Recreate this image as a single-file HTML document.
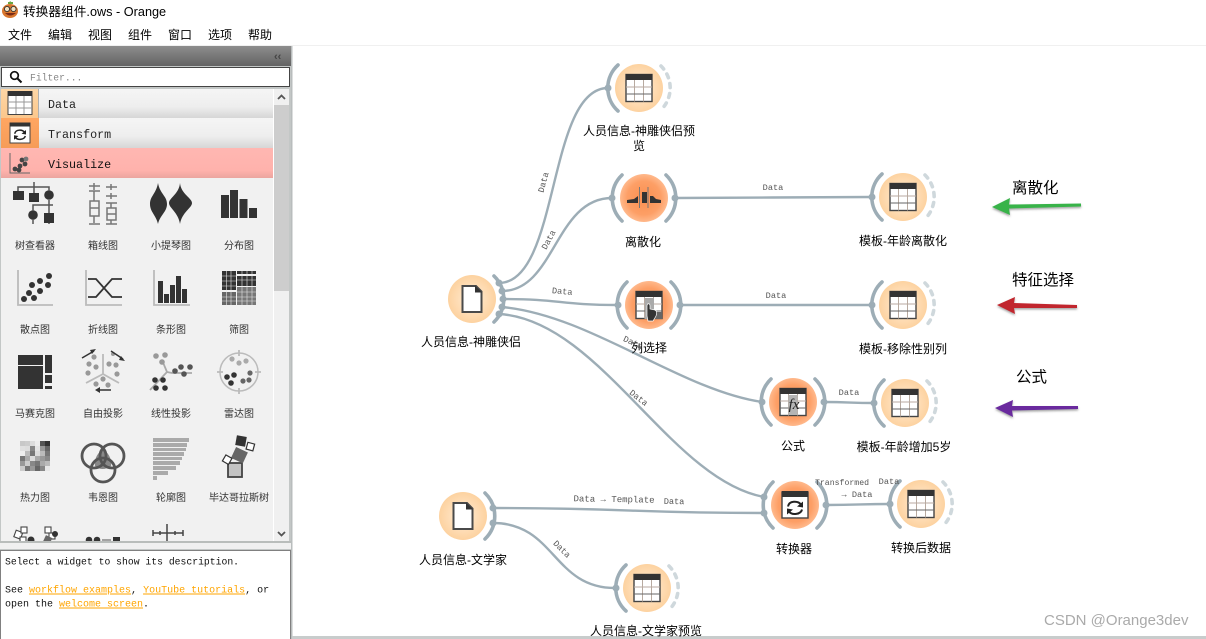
<!DOCTYPE html>
<html><head><meta charset="utf-8">
<style>
html,body{margin:0;padding:0;background:#fff;width:1206px;height:639px;overflow:hidden}
svg{display:block}
.ui{font-family:"Liberation Sans","Noto Sans CJK SC",sans-serif;fill:#000}
.mono{font-family:"Liberation Mono",monospace}
.pal{font-family:"Liberation Sans","Noto Sans CJK SC",sans-serif;font-size:10px;fill:#333;text-anchor:middle}
.nl{font-family:"Liberation Sans","Noto Sans CJK SC",sans-serif;font-size:12px;fill:#000;text-anchor:middle}
.el{font-family:"Liberation Mono",monospace;font-size:8.6px;fill:#555;text-anchor:middle}
.edge{fill:none;stroke:#9dadb6;stroke-width:2.4}
.arc{fill:none;stroke:#9dadb6;stroke-width:3.6;stroke-linecap:round}
.dash{fill:none;stroke:#cfd8dc;stroke-width:3.6;stroke-linecap:round;stroke-dasharray:4 6}
.big{font-family:"Liberation Sans","Noto Sans CJK SC",sans-serif;font-size:15.5px;fill:#000}
</style></head>
<body>
<svg width="1206" height="639" viewBox="0 0 1206 639" xmlns="http://www.w3.org/2000/svg">
<defs>
<radialGradient id="lt"><stop offset="0" stop-color="#ffedd6"/><stop offset="1" stop-color="#fdd2a0"/></radialGradient>
<radialGradient id="or"><stop offset="0" stop-color="#fb8f50"/><stop offset=".7" stop-color="#fd9f66"/><stop offset="1" stop-color="#ffb98c"/></radialGradient>
<linearGradient id="hdr" x1="0" y1="0" x2="0" y2="1"><stop offset="0" stop-color="#8d8d8d"/><stop offset="1" stop-color="#636363"/></linearGradient>
<linearGradient id="tab" x1="0" y1="0" x2="0" y2="1"><stop offset="0" stop-color="#f5f5f5"/><stop offset=".6" stop-color="#eeeeee"/><stop offset="1" stop-color="#d6d6d6"/></linearGradient>
<linearGradient id="vis" x1="0" y1="0" x2="0" y2="1"><stop offset="0" stop-color="#ffb7b2"/><stop offset=".75" stop-color="#ffb2ac"/><stop offset="1" stop-color="#eba59f"/></linearGradient>
<linearGradient id="dt" x1="0" y1="0" x2="0" y2="1"><stop offset="0" stop-color="#fed7a6"/><stop offset="1" stop-color="#fbc78c"/></linearGradient>
<linearGradient id="tt" x1="0" y1="0" x2="0" y2="1"><stop offset="0" stop-color="#ffa662"/><stop offset="1" stop-color="#f69c58"/></linearGradient>
<filter id="sh" x="-10%" y="-30%" width="120%" height="170%"><feDropShadow dx="0" dy="1.5" stdDeviation="1" flood-color="#555" flood-opacity=".55"/></filter>
<clipPath id="palclip"><rect x="2" y="178" width="272" height="363"/></clipPath>

<g id="tbl">
 <rect x="-13" y="-13.5" width="26" height="27" fill="#fff" stroke="#444" stroke-width="1.4"/>
 <rect x="-13" y="-14" width="26" height="6" fill="#333"/>
 <path d="M-4.5-8V13.5M4.5-8V13.5" stroke="#b8aaa0" stroke-width="1" fill="none"/>
 <path d="M-13-1H13" stroke="#b8aaa0" stroke-width="1"/>
 <path d="M-13 6H13" stroke="#666" stroke-width="1"/>
</g>
<g id="file">
 <path d="M-9.5-13H4L9.5-7.5V13H-9.5Z" fill="#fff" stroke="#4a4a4a" stroke-width="2"/>
 <path d="M3-13.5L10-6.5H3Z" fill="#333"/>
</g>
<g id="sync">
 <path d="M-7-1C-6-7 3-7 6-3" fill="none" stroke="#222" stroke-width="2"/>
 <path d="M8-6L8 0 2-1Z" fill="#222"/>
 <path d="M7 2C6 7-3 8-6 4" fill="none" stroke="#222" stroke-width="2"/>
 <path d="M-8 7L-8 1-2 2Z" fill="#222"/>
</g>
</defs>

<rect width="1206" height="639" fill="#fff"/>

<!-- title bar -->
<g>
 <ellipse cx="10" cy="11" rx="8" ry="7" fill="#d9772e"/>
 <path d="M9 3L10 1 12 3Z" fill="#5d9b3c"/>
 <rect x="8" y="2" width="5" height="2" fill="#6aa53f"/>
 <circle cx="7" cy="9" r="2.6" fill="#f2e2c2" stroke="#333" stroke-width=".9"/>
 <circle cx="13.5" cy="9" r="2.6" fill="#f2e2c2" stroke="#333" stroke-width=".9"/>
 <path d="M5 13Q10 18 16 13Z" fill="#7b2a15"/>
</g>
<text class="ui" x="23" y="16" font-size="12.7">转换器组件.ows - Orange</text>
<g class="ui" font-size="12">
 <text x="8" y="39">文件</text><text x="48" y="39">编辑</text><text x="88" y="39">视图</text><text x="128" y="39">组件</text><text x="168" y="39">窗口</text><text x="208" y="39">选项</text><text x="248" y="39">帮助</text>
</g>
<rect x="0" y="45" width="1206" height="1" fill="#f0f0f0"/>

<!-- dock -->
<rect x="0" y="46" width="292" height="593" fill="#f0f0f0"/>
<rect x="291" y="46" width="1.5" height="593" fill="#b9bdbd"/>
<rect x="0" y="46" width="291" height="20" fill="url(#hdr)"/>
<text x="274" y="60" font-size="11" fill="#444" font-family="Liberation Sans" font-weight="bold">‹‹</text>
<rect x="0" y="66" width="291" height="484" fill="#c3c7c6"/>
<rect x="1.5" y="67.5" width="288" height="19" fill="#fff" stroke="#444" stroke-width="1"/>
<circle cx="14.5" cy="75.5" r="3.8" fill="none" stroke="#111" stroke-width="1.7"/>
<path d="M17.5 78.5L21.5 82.5" stroke="#111" stroke-width="2"/>
<text class="mono" x="30" y="80.5" font-size="9.7" fill="#888">Filter...</text>

<!-- tabs -->
<rect x="1" y="89" width="272" height="29" fill="url(#tab)"/>
<rect x="1" y="89" width="38" height="29" fill="url(#dt)"/>
<rect x="38" y="89" width="1" height="59" fill="#b0b0b0"/>
<rect x="1" y="118" width="272" height="30" fill="url(#tab)"/>
<rect x="1" y="118" width="38" height="30" fill="url(#tt)"/>
<rect x="1" y="148" width="272" height="30" fill="url(#vis)"/>
<g transform="translate(20 103)"><rect x="-12" y="-11.5" width="24" height="23" fill="#fff" stroke="#444"/><rect x="-12" y="-12" width="24" height="5" fill="#333"/><path d="M-4-7V11M4-7V11M-12-1H12M-12 5H12" stroke="#999" fill="none"/></g>
<g transform="translate(20 133)"><rect x="-10" y="-10" width="20" height="20" fill="#fff" stroke="#444"/><rect x="-10" y="-10.5" width="20" height="4" fill="#333"/><g transform="translate(0 1.5) scale(.75)"><use href="#sync"/></g></g>
<g><path d="M10 153V173H30" fill="none" stroke="#666" stroke-width="1"/><g fill="#444"><circle cx="15" cy="169" r="2.4"/><circle cx="20" cy="166" r="2.4"/><circle cx="25" cy="164" r="2.4"/><circle cx="19" cy="170" r="2.4"/><circle cx="22" cy="160" r="2.4"/><circle cx="26" cy="159" r="2.4" fill="#777"/></g></g>
<text class="mono" x="48" y="108" font-size="11.7" fill="#222">Data</text>
<text class="mono" x="48" y="138" font-size="11.7" fill="#222">Transform</text>
<text class="mono" x="48" y="168" font-size="11.7" fill="#111">Visualize</text>

<!-- palette area -->
<rect x="1" y="178" width="272" height="363" fill="#f1f1f1"/>
<rect x="273" y="89" width="1" height="452" fill="#fff"/>
<rect x="274" y="89" width="15" height="452" fill="#f0f0f0"/>
<rect x="274" y="105" width="15" height="186" fill="#cdcdcd"/>
<path d="M278 99L281.5 95.5 285 99" fill="none" stroke="#555" stroke-width="1.8"/>
<path d="M278 532L281.5 535.5 285 532" fill="none" stroke="#555" stroke-width="1.8"/>

<g clip-path="url(#palclip)">
 <!-- tree -->
 <g fill="#333" stroke="none">
  <rect x="13" y="191" width="11" height="9"/><rect x="29" y="193" width="10" height="9"/><circle cx="49" cy="195" r="4.8"/>
  <circle cx="33" cy="215" r="4.8"/><rect x="44" y="213" width="10" height="10"/>
 </g>
 <path d="M18 191V187H49V191M34 182V193M49 200V213M33 211V205H53M33 219V224M49 223V224" fill="none" stroke="#555" stroke-width="1.5"/>
 <!-- box -->
 <g fill="none" stroke="#777" stroke-width="1.5">
  <path d="M89 186H100M94 183V190M89 191H100M94 191V201M90 201H99V216H90ZM90 208H99M94 216V223M89 224H100"/>
  <path d="M106 187H117M111 184V190M106 196H117M111 193V199M106 203H117M111 203V208M107 208H116V220H107ZM107 214H116M111 220V224M106 224H117"/>
 </g>
 <!-- violin -->
 <path d="M158 183C160 194 167 196 167 204C167 212 160 215 158 224C156 215 150 212 150 204C150 196 156 194 158 183Z" fill="#333"/>
 <path d="M180 183C181 194 192 198 192 203C192 208 182 212 180 224C178 212 169 208 169 203C169 198 179 194 180 183Z" fill="#333"/>
 <!-- dist -->
 <g fill="#333"><rect x="221" y="195" width="8" height="23"/><rect x="230" y="190" width="8" height="28"/><rect x="239.5" y="199" width="8" height="19"/><rect x="249" y="208" width="8" height="10"/></g>
 <!-- scatter -->
 <path d="M18 270V305H53" fill="none" stroke="#bbb" stroke-width="1.8"/>
 <g fill="#333"><circle cx="24" cy="299" r="3"/><circle cx="29" cy="293" r="3"/><circle cx="34" cy="298" r="3"/><circle cx="32" cy="285" r="3"/><circle cx="40" cy="281" r="3"/><circle cx="40" cy="291" r="3"/><circle cx="48" cy="285" r="3"/><circle cx="49" cy="276" r="3"/></g>
 <!-- lines -->
 <path d="M86 270V305H122" fill="none" stroke="#bbb" stroke-width="1.8"/>
 <path d="M88 279H96L112 297H122M88 297H96L112 279H122" fill="none" stroke="#333" stroke-width="1.8"/>
 <!-- bar -->
 <path d="M154 270V305H190" fill="none" stroke="#bbb" stroke-width="1.8"/>
 <g fill="#333"><rect x="158" y="281" width="5" height="22"/><rect x="164" y="294" width="5" height="9"/><rect x="170" y="285" width="5" height="18"/><rect x="176" y="276" width="5" height="27"/><rect x="182" y="289" width="5" height="14"/></g>
 <!-- sieve -->
 <g>
  <rect x="222" y="271" width="14" height="19" fill="#333"/><rect x="237" y="271" width="19" height="3" fill="#333"/><rect x="237" y="276" width="19" height="10" fill="#333"/>
  <rect x="222" y="292" width="14" height="13" fill="#666"/><rect x="237" y="287" width="19" height="18" fill="#777"/>
  <path d="M226.5 271V305M231 271V305M242 271V305M247 271V305M252 271V305M222 276H236M222 281H236M222 286H236M222 297H236M222 301H236M237 280H256M237 292H256M237 297H256M237 301H256" stroke="#e8e8e8" stroke-width=".6" fill="none"/>
 </g>
 <!-- mosaic -->
 <g fill="#333"><rect x="18" y="355" width="25" height="10"/><rect x="18" y="366" width="25" height="23"/><rect x="45" y="355" width="7" height="18"/><rect x="45" y="375" width="7" height="8"/><rect x="45" y="386" width="7" height="3"/></g>
 <!-- freeviz -->
 <path d="M103 354V374L86 383M103 374L119 383" fill="none" stroke="#bbb" stroke-width="1.8"/>
 <g fill="#999"><circle cx="89" cy="364" r="2.6"/><circle cx="96" cy="367" r="2.6"/><circle cx="88" cy="373" r="2.6"/><circle cx="94" cy="357" r="2.6"/><circle cx="109" cy="364" r="2.6"/><circle cx="116" cy="365" r="2.6"/><circle cx="117" cy="374" r="2.6"/><circle cx="103" cy="379" r="2.6"/><circle cx="96" cy="384" r="2.6"/><circle cx="108" cy="385" r="2.6"/><circle cx="113" cy="354" r="2"/></g>
 <path d="M82 358L94 351M111 351L123 359M111 390H97" fill="none" stroke="#333" stroke-width="1.5"/>
 <path d="M96 349L92 354 90 350ZM125 361L119 360 121 356ZM95 390L100 387V393Z" fill="#333"/>
 <!-- linear projection -->
 <path d="M150 390L167 372 172 373H192M167 372L162 360" fill="none" stroke="#aaa" stroke-width="1.8"/>
 <g fill="#999"><circle cx="156" cy="356" r="2.8"/><circle cx="165" cy="355" r="2.8"/><circle cx="162" cy="362" r="2.8"/></g>
 <g fill="#555"><circle cx="181" cy="367" r="2.8"/><circle cx="190" cy="367" r="2.8"/><circle cx="184" cy="374" r="2.8"/><circle cx="175" cy="371" r="2.8"/></g>
 <g fill="#333"><circle cx="155" cy="380" r="2.8"/><circle cx="163" cy="380" r="2.8"/><circle cx="156" cy="388" r="2.8"/><circle cx="165" cy="388" r="2.8"/></g>
 <!-- radviz -->
 <circle cx="239" cy="372" r="19" fill="none" stroke="#bbb" stroke-width="1.5"/>
 <path d="M239 350V356M239 388V394M217 372H223M255 372H261" stroke="#bbb" stroke-width="1.8"/>
 <g fill="#aaa"><circle cx="232" cy="359" r="2.6"/><circle cx="239" cy="363" r="2.6"/><circle cx="246" cy="361" r="2.6"/></g>
 <g fill="#333"><circle cx="227" cy="377" r="2.8"/><circle cx="234" cy="375" r="2.8"/><circle cx="231" cy="383" r="2.8"/></g>
 <g fill="#666"><circle cx="250" cy="373" r="2.6"/><circle cx="249" cy="380" r="2.6"/><circle cx="243" cy="381" r="2.6"/></g>
 <!-- heatmap -->
 <g>
  <rect x="20" y="441" width="30" height="30" fill="#a8a8a8"/>
  <rect x="20" y="441" width="5" height="5" fill="#c8c8c8"/><rect x="25" y="441" width="5" height="5" fill="#ccc"/><rect x="30" y="441" width="5" height="5" fill="#ddd"/><rect x="35" y="441" width="5" height="5" fill="#ededed"/><rect x="40" y="441" width="5" height="5" fill="#555"/><rect x="45" y="441" width="5" height="5" fill="#333"/>
  <rect x="20" y="446" width="5" height="5" fill="#e0e0e0"/><rect x="25" y="446" width="5" height="5" fill="#ddd"/><rect x="30" y="446" width="5" height="5" fill="#888"/><rect x="35" y="446" width="5" height="5" fill="#e5e5e5"/><rect x="40" y="446" width="5" height="5" fill="#999"/><rect x="45" y="446" width="5" height="5" fill="#666"/>
  <rect x="20" y="451" width="5" height="5" fill="#eee"/><rect x="25" y="451" width="5" height="5" fill="#bbb"/><rect x="30" y="451" width="5" height="5" fill="#777"/><rect x="35" y="451" width="5" height="5" fill="#ddd"/><rect x="40" y="451" width="5" height="5" fill="#bbb"/><rect x="45" y="451" width="5" height="5" fill="#777"/>
  <rect x="20" y="456" width="5" height="5" fill="#777"/><rect x="25" y="456" width="5" height="5" fill="#aaa"/><rect x="30" y="456" width="5" height="5" fill="#ddd"/><rect x="35" y="456" width="5" height="5" fill="#aaa"/><rect x="40" y="456" width="5" height="5" fill="#999"/><rect x="45" y="456" width="5" height="5" fill="#888"/>
  <rect x="20" y="461" width="5" height="5" fill="#999"/><rect x="25" y="461" width="5" height="5" fill="#ccc"/><rect x="30" y="461" width="5" height="5" fill="#888"/><rect x="35" y="461" width="5" height="5" fill="#777"/><rect x="40" y="461" width="5" height="5" fill="#aaa"/><rect x="45" y="461" width="5" height="5" fill="#bbb"/>
  <rect x="20" y="466" width="5" height="5" fill="#ccc"/><rect x="25" y="466" width="5" height="5" fill="#777"/><rect x="30" y="466" width="5" height="5" fill="#999"/><rect x="35" y="466" width="5" height="5" fill="#666"/><rect x="40" y="466" width="5" height="5" fill="#888"/><rect x="45" y="466" width="5" height="5" fill="#e8e8e8"/>
 </g>
 <!-- venn -->
 <path d="M103 449C110 454 112 461 111 466C105 470 100 470 95 466C94 461 96 454 103 449Z" fill="#888"/>
 <g fill="none" stroke="#555" stroke-width="2.8"><circle cx="94" cy="456" r="12"/><circle cx="112" cy="456" r="12"/><circle cx="103" cy="470" r="12"/></g>
 <!-- silhouette -->
 <g fill="#aaa"><rect x="153" y="438" width="36" height="4"/><rect x="153" y="443" width="34" height="4"/><rect x="153" y="448" width="33" height="3"/><rect x="153" y="452" width="31" height="4"/><rect x="153" y="457" width="29" height="3"/><rect x="153" y="461" width="27" height="4"/><rect x="153" y="466" width="23" height="4"/><rect x="153" y="471" width="15" height="4"/><rect x="153" y="476" width="4" height="4"/></g>
 <!-- pythagoras -->
 <rect x="228" y="463" width="14" height="14" fill="#c4c4c4" stroke="#444" stroke-width="1.8"/>
 <rect x="233" y="449" width="13" height="12" fill="#666" transform="rotate(25 239 455)"/>
 <rect x="236" y="436" width="10" height="10" fill="#333" transform="rotate(10 241 441)"/>
 <rect x="247" y="443" width="7" height="7" fill="#fff" stroke="#333" stroke-width="1.2" transform="rotate(15 250 446)"/>
 <rect x="224" y="456" width="7" height="7" fill="#fff" stroke="#333" stroke-width="1.2" transform="rotate(30 227 459)"/>
 <!-- row 5 -->
 <g fill="none" stroke="#444" stroke-width="1.1"><rect x="15" y="531" width="7" height="7" fill="#fff" transform="rotate(20 18 534)"/><rect x="21" y="527" width="6" height="6" fill="#fff"/><rect x="20" y="537" width="6" height="6" fill="#fff"/><rect x="45" y="527" width="6" height="6" fill="#fff"/><rect x="49" y="533" width="6" height="6" fill="#fff"/></g>
 <circle cx="31" cy="540" r="3.5" fill="#333"/><rect x="44" y="536" width="7" height="8" fill="#666" transform="rotate(25 47 540)"/><circle cx="55" cy="534" r="3" fill="#333"/>
 <g fill="#333"><circle cx="89" cy="540" r="3.3"/><circle cx="97" cy="540" r="3.3"/><rect x="113" y="537" width="7" height="7"/></g>
 <path d="M102 540H111" stroke="#888" stroke-width="1.5"/>
 <path d="M153 533H183M167 524V545M153 530V536M183 530V536M160 531V535M175 531V535" fill="none" stroke="#444" stroke-width="1.5"/>
 <g>
  <text class="pal" x="35" y="249">树查看器</text><text class="pal" x="103" y="249">箱线图</text><text class="pal" x="171" y="249">小提琴图</text><text class="pal" x="239" y="249">分布图</text>
  <text class="pal" x="35" y="333">散点图</text><text class="pal" x="103" y="333">折线图</text><text class="pal" x="171" y="333">条形图</text><text class="pal" x="239" y="333">筛图</text>
  <text class="pal" x="35" y="417">马赛克图</text><text class="pal" x="103" y="417">自由投影</text><text class="pal" x="171" y="417">线性投影</text><text class="pal" x="239" y="417">雷达图</text>
  <text class="pal" x="35" y="501">热力图</text><text class="pal" x="103" y="501">韦恩图</text><text class="pal" x="171" y="501">轮廓图</text><text class="pal" x="239" y="501">毕达哥拉斯树</text>
 </g>
</g>

<!-- description -->
<rect x="0" y="541" width="291" height="2" fill="#b9bdbb"/>
<rect x="0" y="543" width="291" height="6" fill="#f0f0f0"/>
<rect x="0.5" y="550.5" width="290" height="90" fill="#fff" stroke="#808080"/>
<g class="mono" font-size="10" fill="#111">
 <text x="5" y="564.5" font-size="9.75">Select a widget to show its description.</text>
 <text x="5" y="592.5">See <tspan fill="#ffa500" text-decoration="underline">workflow examples</tspan>, <tspan fill="#ffa500" text-decoration="underline">YouTube tutorials</tspan>, or</text>
 <text x="5" y="606.5">open the <tspan fill="#ffa500" text-decoration="underline">welcome screen</tspan>.</text>
</g>

<!-- canvas bottom strip -->
<rect x="292" y="636" width="914" height="3" fill="#c8cccc"/>

<!-- edges -->
<g class="edge">
 <path d="M499 283C560 283 547 88 608 88"/>
 <path d="M502 291C555 291 555 198 612 198"/>
 <path d="M503 299C560 299 560 305 618 305"/>
 <path d="M502 307C590 315 680 390 762 402"/>
 <path d="M499 314C600 320 670 480 764 497"/>
 <path d="M493 508C630 508 630 513 764 513"/>
 <path d="M493 523C555 523 553 588 615 588"/>
 <path d="M675 198C770 198 775 197 872 197"/>
 <path d="M680 305H872"/>
 <path d="M824 402C850 402 850 403 874 403"/>
 <path d="M826 505C860 505 860 504 890 504"/>
</g>

<!-- nodes -->
<!-- source 1 -->
<circle cx="472" cy="299" r="24" fill="url(#lt)"/><use href="#file" x="472" y="299"/>
<path class="arc" d="M494 276A32 32 0 0 1 494 322"/>
<g fill="#9dadb6"><circle cx="499" cy="283" r="3.5"/><circle cx="502" cy="291" r="3.5"/><circle cx="503" cy="299" r="3.5"/><circle cx="502" cy="307" r="3.5"/><circle cx="499" cy="314" r="3.5"/></g>

<!-- preview top -->
<circle cx="639" cy="88" r="24" fill="url(#lt)"/><use href="#tbl" x="639" y="88"/>
<path class="arc" d="M618 65A31 31 0 0 0 618 111"/><path class="dash" d="M661 66A31 31 0 0 1 661 110"/>
<circle cx="608" cy="88" r="3.5" fill="#9dadb6"/>

<!-- discretize -->
<circle cx="644" cy="198" r="24" fill="url(#or)"/>
<path d="M627 203V200L634 199 638 196V203ZM642 192H647V203H642ZM650 196H653L656 199 661 200V203H650Z" fill="#333"/>
<path d="M639.5 187V208M648 187V208" stroke="#777" stroke-width="1" fill="none"/>
<path class="arc" d="M622 175A32 32 0 0 0 622 221M666 175A32 32 0 0 1 666 221"/>
<circle cx="612" cy="198" r="3.5" fill="#9dadb6"/><circle cx="675" cy="198" r="3.5" fill="#9dadb6"/>

<!-- select columns -->
<circle cx="649" cy="305" r="24" fill="url(#or)"/><use href="#tbl" x="649" y="305"/>
<rect x="645" y="298" width="9" height="21" fill="#aaa"/><rect x="654" y="312" width="8" height="7" fill="#666"/>
<path d="M647 316V306C647 303 650 303 650 306V309L655 310C657 311 657 313 656 316L653 321H648Z" fill="#333" stroke="#fff" stroke-width=".7"/>
<path class="arc" d="M627 282A32 32 0 0 0 627 328M671 282A32 32 0 0 1 671 328"/>
<circle cx="618" cy="305" r="3.5" fill="#9dadb6"/><circle cx="680" cy="305" r="3.5" fill="#9dadb6"/>

<!-- formula -->
<circle cx="793" cy="402" r="24" fill="url(#or)"/><use href="#tbl" x="793" y="402"/>
<rect x="788.5" y="395" width="9" height="20" fill="#b5b5b5"/>
<text x="794" y="409" font-family="Liberation Serif,serif" font-style="italic" font-size="15" fill="#222" text-anchor="middle">fx</text>
<path class="arc" d="M771 379A32 32 0 0 0 771 425M815 379A32 32 0 0 1 815 425"/>
<circle cx="762" cy="402" r="3.5" fill="#9dadb6"/><circle cx="824" cy="402" r="3.5" fill="#9dadb6"/>

<!-- transformer -->
<circle cx="795" cy="505" r="24" fill="url(#or)"/>
<rect x="782" y="492" width="26" height="26" fill="#fff" stroke="#444" stroke-width="1.4"/><rect x="782" y="491" width="26" height="6" fill="#333"/>
<use href="#sync" x="795" y="507.5"/>
<path class="arc" d="M773 482A32 32 0 0 0 773 528M817 482A32 32 0 0 1 817 528"/>
<circle cx="764" cy="497" r="3.5" fill="#9dadb6"/><circle cx="764" cy="513" r="3.5" fill="#9dadb6"/><circle cx="826" cy="505" r="3.5" fill="#9dadb6"/>

<!-- outputs -->
<circle cx="903" cy="197" r="24" fill="url(#lt)"/><use href="#tbl" x="903" y="197"/>
<path class="arc" d="M882 174A31 31 0 0 0 882 220"/><path class="dash" d="M925 175A31 31 0 0 1 925 219"/>
<circle cx="872" cy="197" r="3.5" fill="#9dadb6"/>

<circle cx="903" cy="305" r="24" fill="url(#lt)"/><use href="#tbl" x="903" y="305"/>
<path class="arc" d="M882 282A31 31 0 0 0 882 328"/><path class="dash" d="M925 283A31 31 0 0 1 925 327"/>
<circle cx="872" cy="305" r="3.5" fill="#9dadb6"/>

<circle cx="905" cy="403" r="24" fill="url(#lt)"/><use href="#tbl" x="905" y="403"/>
<path class="arc" d="M884 380A31 31 0 0 0 884 426"/><path class="dash" d="M927 381A31 31 0 0 1 927 425"/>
<circle cx="874" cy="403" r="3.5" fill="#9dadb6"/>

<circle cx="921" cy="504" r="24" fill="url(#lt)"/><use href="#tbl" x="921" y="504"/>
<path class="arc" d="M900 481A31 31 0 0 0 900 527"/><path class="dash" d="M943 482A31 31 0 0 1 943 526"/>
<circle cx="890" cy="504" r="3.5" fill="#9dadb6"/>

<!-- source 2 -->
<circle cx="463" cy="516" r="24" fill="url(#lt)"/><use href="#file" x="463" y="516"/>
<path class="arc" d="M485 493A32 32 0 0 1 485 539"/>
<circle cx="493" cy="508" r="3.5" fill="#9dadb6"/><circle cx="493" cy="523" r="3.5" fill="#9dadb6"/>

<!-- preview 2 -->
<circle cx="647" cy="588" r="24" fill="url(#lt)"/><use href="#tbl" x="647" y="588"/>
<path class="arc" d="M626 565A31 31 0 0 0 626 611"/><path class="dash" d="M669 566A31 31 0 0 1 669 610"/>
<circle cx="616" cy="588" r="3.5" fill="#9dadb6"/>

<!-- node labels -->
<text class="nl" x="639" y="135">人员信息-神雕侠侣预</text>
<text class="nl" x="639" y="150">览</text>
<text class="nl" x="643" y="246">离散化</text>
<text class="nl" x="903" y="245">模板-年龄离散化</text>
<text class="nl" x="471" y="346">人员信息-神雕侠侣</text>
<text class="nl" x="649" y="352">列选择</text>
<text class="nl" x="903" y="353">模板-移除性别列</text>
<text class="nl" x="793" y="450">公式</text>
<text class="nl" x="904" y="451">模板-年龄增加5岁</text>
<text class="nl" x="794" y="553">转换器</text>
<text class="nl" x="921" y="552">转换后数据</text>
<text class="nl" x="463" y="564">人员信息-文学家</text>
<text class="nl" x="646" y="635">人员信息-文学家预览</text>

<!-- edge labels -->
<text class="el" transform="translate(546 183) rotate(-75)">Data</text>
<text class="el" transform="translate(551 241) rotate(-62)">Data</text>
<text class="el" transform="translate(562 294) rotate(5)">Data</text>
<text class="el" transform="translate(632 345) rotate(25)">Data</text>
<text class="el" transform="translate(637 400) rotate(38)">Data</text>
<text class="el" x="773" y="190">Data</text>
<text class="el" x="776" y="298">Data</text>
<text class="el" x="849" y="395">Data</text>
<text class="el" style="font-size:9px" transform="translate(614 502) rotate(1)">Data → Template</text>
<text class="el" transform="translate(674 504) rotate(1)">Data</text>
<text class="el" transform="translate(560 551) rotate(45)">Data</text>
<text class="el" style="font-size:8.2px" x="842" y="485">Transformed</text>
<text class="el" x="857" y="497">→ Data</text>
<text class="el" x="889" y="484">Data</text>

<!-- annotations -->
<text class="big" x="1012" y="193">离散化</text>
<text class="big" x="1012" y="285">特征选择</text>
<text class="big" x="1016" y="382">公式</text>
<g filter="url(#sh)">
 <path d="M992 207L1010 198 1009 204.5 1081 203.5V206.5L1009 208.5 1010 215Z" fill="#37b34a"/>
 <path d="M997 305L1015 297 1014 303 1077 305V308L1014 308 1015 314Z" fill="#c1272d"/>
 <path d="M995 408L1013 400 1012 406 1078 406V409L1012 410.5 1013 417Z" fill="#6a2c9e"/>
</g>

<!-- watermark -->
<text x="1044" y="625" font-family="Liberation Sans,sans-serif" font-size="15" fill="#aaa">CSDN @Orange3dev</text>
</svg>
</body></html>
